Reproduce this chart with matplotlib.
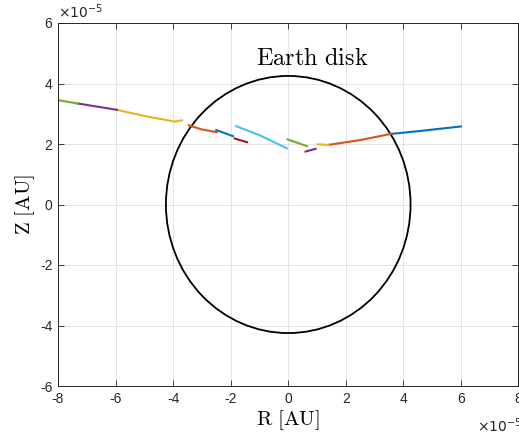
import matplotlib
matplotlib.use("Agg")
import matplotlib.pyplot as plt
import numpy as np
from matplotlib.patches import Circle
from matplotlib.ticker import FuncFormatter

plt.rcParams['font.family'] = ['Liberation Sans', 'DejaVu Sans']
plt.rcParams['mathtext.fontset'] = 'cm'
plt.rcParams['axes.unicode_minus'] = False

SCALE = 1e-5  # values below are in units of 1e-5 AU

# trajectory segments (R, Z) in units of 1e-5 AU, right to left
seg_colors = ['#0072BD', '#D95319', '#EDB120', '#7E2F8E', '#77AC30', '#4DBEEE',
              '#A2142F', '#0072BD', '#D95319', '#EDB120', '#7E2F8E', '#77AC30']
seg_r = [
    [6.0, 4.58, 3.54],
    [3.54, 2.5, 1.39],
    [1.40, 1.02],
    [0.95, 0.60],
    [0.65, -0.02],
    [-0.05, -0.97, -1.81],
    [-1.43, -1.86],
    [-1.92, -2.50],
    [-2.48, -3.0, -3.46],
    [-3.69, -3.96, -4.16, -4.97, -5.95],
    [-5.95, -7.32],
    [-7.32, -8.0],
]
seg_z = [
    [2.58, 2.43, 2.33],
    [2.33, 2.13, 1.97],
    [1.97, 1.99],
    [1.84, 1.75],
    [1.93, 2.15],
    [1.86, 2.28, 2.59],
    [2.06, 2.18],
    [2.26, 2.46],
    [2.39, 2.48, 2.62],
    [2.78, 2.74, 2.78, 2.92, 3.13],
    [3.13, 3.34],
    [3.34, 3.45],
]
earth_radius = 4.25
x_ticks = [-8, -6, -4, -2, 0, 2, 4, 6, 8]
y_ticks = [-6, -4, -2, 0, 2, 4, 6]

fig = plt.figure(figsize=(5.19, 4.37), dpi=100)
ax = fig.add_axes([58/519, 1-386/437, (519-58)/519 - 0.001, (386-23)/437])

for r, z, c in zip(seg_r, seg_z, seg_colors):
    ax.plot(np.array(r)*SCALE, np.array(z)*SCALE, color=c, lw=1.5)

ax.add_patch(Circle((0, 0), earth_radius*SCALE, fill=False, ec='black', lw=1.3))
ax.text(0.83*SCALE, 4.8*SCALE, r'$\mathrm{Earth\ disk}$', fontsize=17.5,
        ha='center', va='center')

ax.set_xlim(-8*SCALE, 8*SCALE)
ax.set_ylim(-6*SCALE, 6*SCALE)
ax.set_xticks(np.array(x_ticks)*SCALE)
ax.set_yticks(np.array(y_ticks)*SCALE)
fmt = FuncFormatter(lambda v, p: '%d' % round(v/SCALE))
ax.xaxis.set_major_formatter(fmt)
ax.yaxis.set_major_formatter(fmt)
ax.tick_params(direction='in', length=4, width=0.6, labelsize=10, colors='#262626',
               top=True, right=True, pad=4)
ax.grid(True, color='#dfdfdf', lw=0.6)
ax.set_axisbelow(True)
for s in ax.spines.values():
    s.set_color('#262626')
    s.set_linewidth(0.7)

ax.set_xlabel(r'$\mathrm{R\ [AU]}$', fontsize=15, labelpad=2)
ax.set_ylabel(r'$\mathrm{Z\ [AU]}$', fontsize=15, labelpad=2)

ax.text(0.0, 1.005, r'$\times10^{-5}$', transform=ax.transAxes, fontsize=10,
        ha='left', va='bottom', math_fontfamily='dejavusans', color='#262626')
ax.text(0.91, -0.085, r'$\times10^{-5}$', transform=ax.transAxes, fontsize=10,
        ha='left', va='top', math_fontfamily='dejavusans', color='#262626')

fig.savefig('out.png', dpi=100)
